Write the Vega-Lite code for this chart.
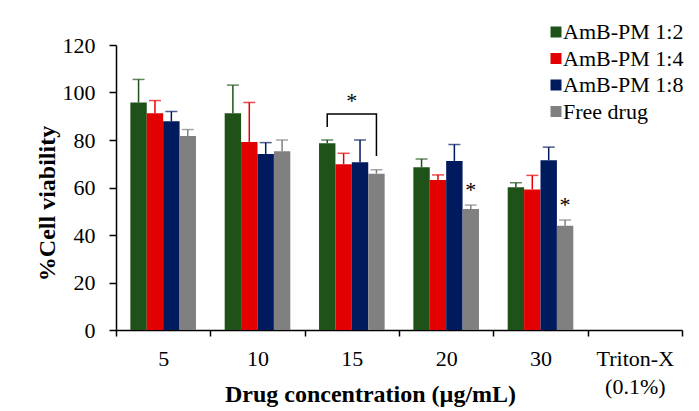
{
  "$schema": "https://vega.github.io/schema/vega-lite/v6.json",
  "width": 566,
  "height": 285,
  "autosize": {"type": "none"},
  "padding": {"left": 116, "top": 45, "right": 17, "bottom": 81},
  "background": "white",
  "config": {
    "font": "Liberation Serif",
    "view": {"stroke": null},
    "axis": {
      "domainColor": "black",
      "domainWidth": 1.5,
      "tickColor": "black",
      "tickWidth": 1.5,
      "labelColor": "black",
      "titleColor": "black",
      "labelFont": "Liberation Serif",
      "titleFont": "Liberation Serif",
      "grid": false
    },
    "axisY": {
      "titleFontSize": 24,
      "titleFontWeight": "bold",
      "titlePadding": 3,
      "titleY": 158,
      "labelFontSize": 22,
      "labelPadding": 14,
      "tickSize": 7
    },
    "legend": {
      "labelFont": "Liberation Serif",
      "labelColor": "black"
    }
  },
  "datasets": {
    "bars": [
      {"conc": "5", "series": "AmB-PM 1:2", "value": 95.8, "upper": 105.5},
      {"conc": "5", "series": "AmB-PM 1:4", "value": 91.3, "upper": 96.6},
      {"conc": "5", "series": "AmB-PM 1:8", "value": 87.9, "upper": 92.0},
      {"conc": "5", "series": "Free drug", "value": 81.7, "upper": 84.4},
      {"conc": "10", "series": "AmB-PM 1:2", "value": 91.3, "upper": 103.1},
      {"conc": "10", "series": "AmB-PM 1:4", "value": 79.2, "upper": 95.8},
      {"conc": "10", "series": "AmB-PM 1:8", "value": 74.1, "upper": 78.9},
      {"conc": "10", "series": "Free drug", "value": 75.3, "upper": 80.0},
      {"conc": "15", "series": "AmB-PM 1:2", "value": 78.6, "upper": 80.0},
      {"conc": "15", "series": "AmB-PM 1:4", "value": 69.8, "upper": 74.4},
      {"conc": "15", "series": "AmB-PM 1:8", "value": 70.6, "upper": 80.0},
      {"conc": "15", "series": "Free drug", "value": 65.8, "upper": 67.5},
      {"conc": "20", "series": "AmB-PM 1:2", "value": 68.5, "upper": 72.0},
      {"conc": "20", "series": "AmB-PM 1:4", "value": 63.2, "upper": 65.3},
      {"conc": "20", "series": "AmB-PM 1:8", "value": 71.2, "upper": 78.1},
      {"conc": "20", "series": "Free drug", "value": 50.9, "upper": 52.6},
      {"conc": "30", "series": "AmB-PM 1:2", "value": 60.1, "upper": 62.0},
      {"conc": "30", "series": "AmB-PM 1:4", "value": 59.2, "upper": 65.1},
      {"conc": "30", "series": "AmB-PM 1:8", "value": 71.5, "upper": 77.0},
      {"conc": "30", "series": "Free drug", "value": 43.9, "upper": 46.3}
    ],
    "bracket": [
      {"conc": "15", "series": "AmB-PM 1:2", "y": 85.5, "o": 1},
      {"conc": "15", "series": "AmB-PM 1:2", "y": 91.0, "o": 2},
      {"conc": "15", "series": "Free drug", "y": 91.0, "o": 3},
      {"conc": "15", "series": "Free drug", "y": 73.3, "o": 4}
    ],
    "starCenter": [
      {"conc": "15", "y": 93.4, "t": "*"}
    ],
    "starBars": [
      {"conc": "20", "series": "Free drug", "y": 56.0, "t": "*"},
      {"conc": "30", "series": "Free drug", "y": 49.8, "t": "*"}
    ]
  },
  "encoding": {
    "x": {
      "field": "conc",
      "type": "nominal",
      "scale": {
        "domain": ["5", "10", "15", "20", "30", "Triton-X"],
        "paddingInner": 0,
        "paddingOuter": 0
      },
      "axis": {
        "title": "Drug concentration (µg/mL)",
        "titleFontSize": 24,
        "titleFontWeight": "bold",
        "titleX": 254,
        "titleY": 71,
        "titleAlign": "center",
        "titleBaseline": "alphabetic",
        "labelFontSize": 22,
        "labelAngle": 0,
        "labelPadding": 12,
        "labelLineHeight": 28,
        "labelExpr": "datum.value == 'Triton-X' ? ['Triton-X', '(0.1%)'] : datum.label",
        "tickBand": "extent",
        "tickSize": 6,
        "labelLimit": 200
      }
    }
  },
  "layer": [
    {
      "data": {"name": "bars"},
      "mark": {"type": "bar"},
      "encoding": {
        "xOffset": {
          "field": "series",
          "type": "nominal",
          "scale": {
            "domain": ["AmB-PM 1:2", "AmB-PM 1:4", "AmB-PM 1:8", "Free drug"],
            "paddingInner": 0,
            "paddingOuter": 0.875
          }
        },
        "y": {
          "field": "value",
          "type": "quantitative",
          "title": "%Cell viability",
          "scale": {"domain": [0, 120], "nice": false},
          "axis": {"values": [0, 20, 40, 60, 80, 100, 120]}
        },
        "color": {
          "field": "series",
          "type": "nominal",
          "scale": {
            "domain": ["AmB-PM 1:2", "AmB-PM 1:4", "AmB-PM 1:8", "Free drug"],
            "range": ["#1f5219", "#e20000", "#001a5e", "#808080"]
          },
          "legend": {
            "title": null,
            "orient": "none",
            "legendX": 429,
            "legendY": -24,
            "symbolType": "square",
            "symbolSize": 121,
            "symbolStrokeWidth": 0,
            "labelFontSize": 22,
            "labelOffset": -4,
            "rowPadding": 4.5,
            "padding": 0,
            "labelLimit": 300
          }
        }
      }
    },
    {
      "data": {"name": "bars"},
      "mark": {"type": "rule", "strokeWidth": 1.5},
      "encoding": {
        "xOffset": {"field": "series", "type": "nominal"},
        "y": {"field": "value", "type": "quantitative", "title": "%Cell viability"},
        "y2": {"field": "upper"},
        "color": {"field": "series", "type": "nominal", "legend": null}
      }
    },
    {
      "data": {"name": "bars"},
      "mark": {"type": "tick", "thickness": 1.5, "size": 12},
      "encoding": {
        "xOffset": {"field": "series", "type": "nominal"},
        "y": {"field": "upper", "type": "quantitative", "title": "%Cell viability"},
        "color": {"field": "series", "type": "nominal", "legend": null}
      }
    },
    {
      "data": {"name": "bracket"},
      "mark": {"type": "line", "color": "black", "strokeWidth": 1.5},
      "encoding": {
        "xOffset": {"field": "series", "type": "nominal"},
        "y": {"field": "y", "type": "quantitative", "title": "%Cell viability"},
        "order": {"field": "o", "type": "quantitative"}
      }
    },
    {
      "data": {"name": "starCenter"},
      "mark": {"type": "text", "fontSize": 22, "color": "black", "baseline": "alphabetic", "font": "Liberation Serif"},
      "encoding": {
        "y": {"field": "y", "type": "quantitative", "title": "%Cell viability"},
        "text": {"field": "t"}
      }
    },
    {
      "data": {"name": "starBars"},
      "mark": {"type": "text", "fontSize": 22, "color": "black", "baseline": "alphabetic", "font": "Liberation Serif"},
      "encoding": {
        "xOffset": {"field": "series", "type": "nominal"},
        "y": {"field": "y", "type": "quantitative", "title": "%Cell viability"},
        "text": {"field": "t"}
      }
    }
  ]
}
